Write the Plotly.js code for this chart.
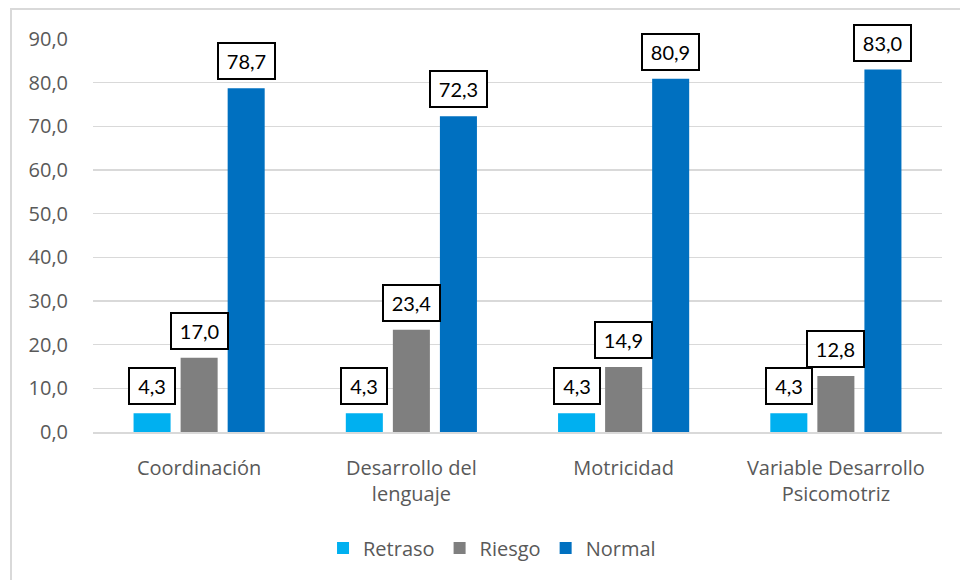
<!DOCTYPE html>
<html>
<head>
<meta charset="utf-8">
<script src="https://cdn.plot.ly/plotly-3.0.1.min.js"></script>
<style>
html,body{margin:0;padding:0;background:#fff;}
#wrap{position:relative;width:960px;height:580px;overflow:hidden;}
#frame{position:absolute;left:10px;top:8px;width:1000px;height:700px;border:2px solid #d9d9d9;box-sizing:border-box;pointer-events:none;}
#chart{position:absolute;left:0;top:0;width:960px;height:580px;}
</style>
</head>
<body>
<div id="wrap">
<div id="chart"></div>
<div id="frame"></div>
</div>
<script>
const categories = ["Coordinación", "Desarrollo del<br>lenguaje", "Motricidad", "Variable Desarrollo<br>Psicomotriz"];
const seriesNames = ["Retraso", "Riesgo", "Normal"];
const retraso = [4.3, 4.3, 4.3, 4.3];
const riesgo = [17.0, 23.4, 14.9, 12.8];
const normal = [78.7, 72.3, 80.9, 83.0];
const colors = ["#00B0F0", "#7F7F7F", "#0070C0"];
const yTicks = [0, 10, 20, 30, 40, 50, 60, 70, 80, 90];

const allSeries = [retraso, riesgo, normal];
const fmt = v => v.toFixed(1).replace(".", ",");

const traces = allSeries.map((vals, i) => ({
  type: "bar",
  name: seriesNames[i],
  x: categories,
  y: vals,
  marker: {color: colors[i]},
  hoverinfo: "none"
}));

const bargap = 0.335;
const nSeries = allSeries.length;
const slot = (1 - bargap) / nSeries;
const annotations = [];
allSeries.forEach((vals, i) => {
  vals.forEach((v, j) => {
    const s = fmt(v);
    annotations.push({
      x: j + (i - (nSeries - 1) / 2) * slot,
      y: v,
      xref: "x", yref: "y",
      text: s,
      showarrow: false,
      yanchor: "bottom",
      xanchor: "center",
      yshift: 8,
      width: s.length > 3 ? 51 : 40,
      height: 30,
      align: "center",
      valign: "middle",
      font: {family: "Lato, 'Open Sans', sans-serif", size: 20, color: "#000"},
      bgcolor: "#fff",
      bordercolor: "#000",
      borderwidth: 2,
      borderpad: 2
    });
  });
});

const layout = {
  width: 960, height: 580,
  margin: {l: 93, r: 18, t: 39, b: 148},
  paper_bgcolor: "#fff",
  plot_bgcolor: "#fff",
  barmode: "group",
  bargap: bargap,
  bargroupgap: 0.213,
  font: {family: "'Open Sans', sans-serif", color: "#595959", size: 20},
  xaxis: {
    type: "category",
    tickfont: {size: 20, color: "#595959"},
    showgrid: false,
    showline: true,
    linecolor: "#d9d9d9",
    linewidth: 1.5,
    ticks: "",
    ticklabelstandoff: 17,
    automargin: false
  },
  yaxis: {
    range: [0, 90],
    tickvals: yTicks,
    ticktext: yTicks.map(fmt),
    tickfont: {size: 20, color: "#595959"},
    showgrid: true,
    gridcolor: "#d9d9d9",
    gridwidth: 1.5,
    zeroline: false,
    showline: false,
    ticks: "",
    ticklabelstandoff: 24,
    automargin: false
  },
  showlegend: true,
  legend: {
    orientation: "h",
    x: 0.47, xanchor: "center",
    y: -0.295, yanchor: "middle",
    font: {size: 20, color: "#595959"},
    itemwidth: 30,
    traceorder: "normal"
  },
  annotations: annotations
};

Plotly.newPlot("chart", traces, layout, {displayModeBar: false, staticPlot: true});
</script>
</body>
</html>
